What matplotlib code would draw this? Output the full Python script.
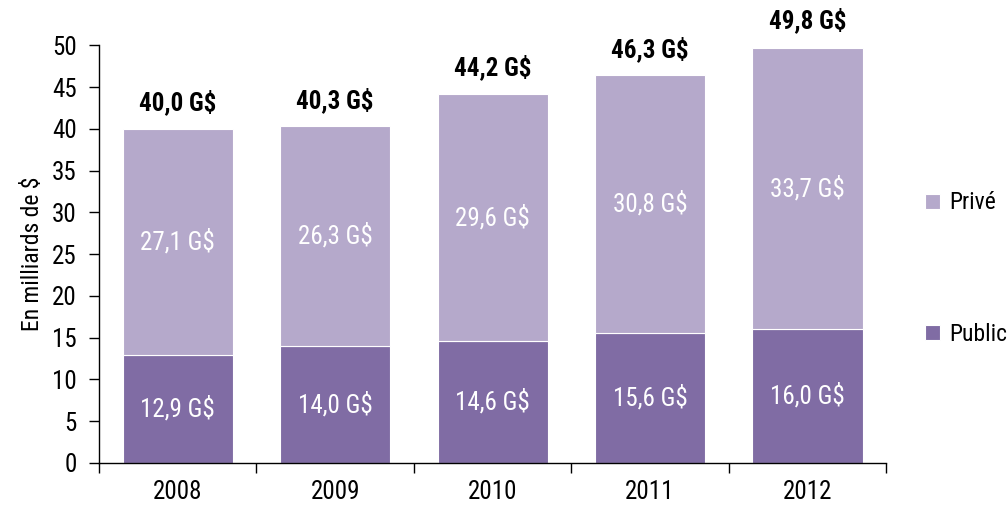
import matplotlib
matplotlib.use("Agg")
import matplotlib.pyplot as plt
import numpy as np

years = ["2008", "2009", "2010", "2011", "2012"]
public = [12.9, 14.0, 14.6, 15.6, 16.0]
prive = [27.1, 26.3, 29.6, 30.8, 33.7]
totals = [40.0, 40.3, 44.2, 46.3, 49.8]

c_public = "#806ca4"
c_prive = "#b5a9cb"

plt.rcParams["font.family"] = ["Roboto Condensed", "Liberation Sans", "DejaVu Sans"]


def fr(v):
    return f"{v:.1f}".replace(".", ",") + " G$"


fig = plt.figure(figsize=(10.08, 5.07), dpi=100)
ax = fig.add_axes([0.0982, 0.0868, 0.781, 0.824])

x = np.arange(len(years))
b1 = ax.bar(x, public, width=0.70, color=c_public, edgecolor="white", linewidth=0.8, label="Public")
b2 = ax.bar(x, prive, width=0.70, bottom=public, color=c_prive, edgecolor="white", linewidth=0.8, label="Privé")

# labels inside the segments + totals above
for i in range(len(years)):
    ax.text(x[i], public[i] / 2, fr(public[i]), ha="center", va="center", color="white", fontsize=18)
    ax.text(x[i], public[i] + prive[i] / 2, fr(prive[i]), ha="center", va="center", color="white", fontsize=18)
    ax.annotate(fr(totals[i]), (x[i], totals[i]), xytext=(0, 19), textcoords="offset points",
                ha="center", va="center", fontsize=18, fontweight="bold", color="black")

ax.set_xlim(-0.5, len(years) - 0.5)
ax.set_ylim(0, 50)
ax.set_yticks(range(0, 51, 5))
ax.set_xticks(x)
ax.set_xticklabels(years)
ax.set_xticks(np.arange(-0.5, len(years), 1), minor=True)
ax.tick_params(axis="x", which="major", length=0, pad=12, labelsize=18)
ax.tick_params(axis="x", which="minor", length=7, width=1, direction="out")
ax.tick_params(axis="y", length=7, width=1, direction="out", pad=9, labelsize=18)
ax.set_ylabel("En milliards de $", fontsize=17, labelpad=6)

for s in ["top", "right"]:
    ax.spines[s].set_visible(False)
for s in ["left", "bottom"]:
    ax.spines[s].set_linewidth(1)
    ax.spines[s].set_color("black")

leg = fig.legend([b2, b1], ["Privé", "Public"], loc="center left", bbox_to_anchor=(0.918, 0.47),
                 frameon=False, fontsize=17, handlelength=0.6, handleheight=0.6,
                 handletextpad=0.4, labelspacing=4.6, borderpad=0, borderaxespad=0)

fig.savefig("out.png", dpi=100)
